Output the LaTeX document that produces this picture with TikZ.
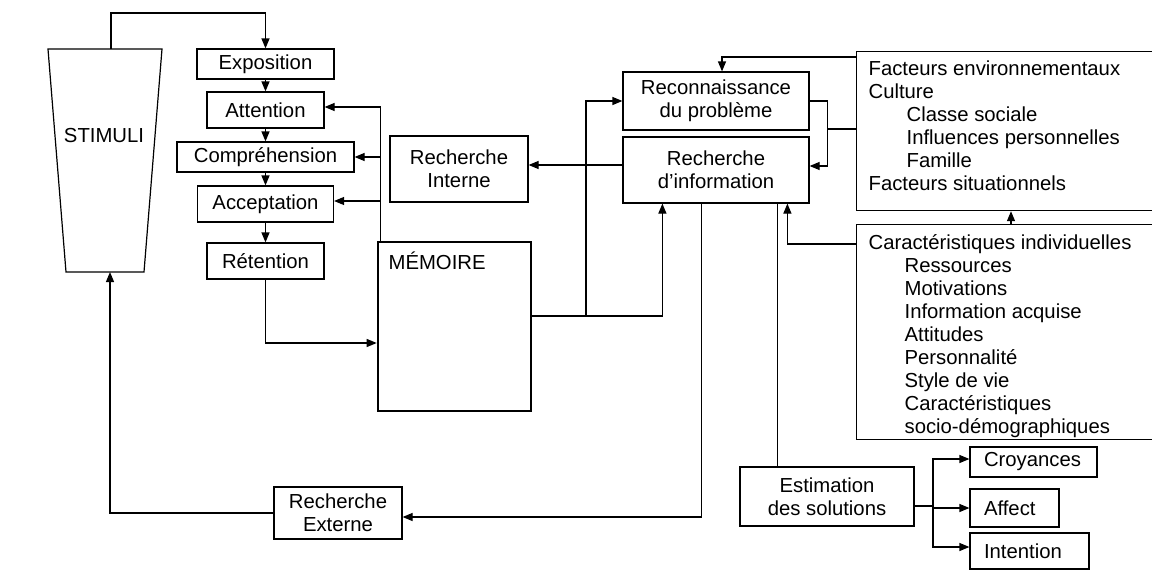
\documentclass[tikz,border=0pt]{standalone}
\usepackage{fontspec}
\setmainfont{Liberation Sans}
\usetikzlibrary{arrows.meta,calc}

\begin{document}
\begin{tikzpicture}[
    x=1pt,
    y=-1pt,
    line width=1.2pt,
    every node/.style={
      inner sep=0pt,
      font=\fontsize{20.3}{23}\selectfont
    },
    box/.style={
      draw,
      align=center
    },
    leftbox/.style={
      draw,
      align=left,
      inner xsep=14pt
    },
    panel/.style={
      draw,
      anchor=north west,
      minimum width=309
    },
    listing/.style={
      anchor=north west,
      align=left
    },
    arr/.style={
      -{Triangle[length=10pt,width=8pt]}
    }
  ]
    \clip (0,0) rectangle (1152,570);

    % stimuli funnel
    \draw (48,49) -- (162,49) -- (144,272) -- (66,272) -- cycle;
    \node (stimuli) at (104,136) {STIMULI};
    \coordinate (stimtop) at (111,49);
    \coordinate (stimbot) at (110,272);

    \node[box, minimum width=137, minimum height=30] (expo) at (265.5,64) {Exposition};
    \node[box, minimum width=117, minimum height=36] (atten) at (265.5,110) {Attention};
    \node[box, minimum width=177, minimum height=30] (compr) at (265.5,157) {Compréhension};
    \node[box, minimum width=136, minimum height=36] (accep) at (265.5,204) {Acceptation};
    \node[box, minimum width=117, minimum height=36] (reten) at (265.5,261) {Rétention};

    \node[box, line width=2.6pt, minimum width=153, minimum height=169] (memoire) at (454.5,326.5) {};
    \node[anchor=base west] (memlabel) at (388,269) {MÉMOIRE};

    \node[box, minimum width=138, minimum height=66] (rint) at (459,169) {Recherche\\Interne};
    \node[box, minimum width=186, minimum height=58] (recon) at (716,101) {Reconnaissance\\du problème};
    \node[box, minimum width=186, minimum height=66] (rinfo) at (716,170) {Recherche\\d’information};
    \node[box, minimum width=128, minimum height=52] (rext) at (338,513) {Recherche\\Externe};
    \node[box, minimum width=174, minimum height=59] (estim) at (827,496.5) {Estimation\\des solutions};
    \node[leftbox, text width=99, minimum height=30] (croy) at (1033.5,462) {Croyances};
    \node[leftbox, text width=61, minimum height=38] (affect) at (1014.5,508) {Affect};
    \node[leftbox, text width=91, minimum height=36] (inten) at (1029.5,551) {Intention};

    % right-hand panels
    \node[panel, minimum height=159] (env) at (856,51) {};
    \node[listing] (envtext) at (868,60) {Facteurs environnementaux\\Culture\\
      \hspace*{38pt}Classe sociale\\\hspace*{38pt}Influences personnelles\\
      \hspace*{38pt}Famille\\Facteurs situationnels};
    \node[panel, minimum height=215] (caract) at (856,224) {};
    \node[listing] (caracttext) at (868,234) {Caractéristiques individuelles\\
      \hspace*{36pt}Ressources\\\hspace*{36pt}Motivations\\
      \hspace*{36pt}Information acquise\\\hspace*{36pt}Attitudes\\
      \hspace*{36pt}Personnalité\\\hspace*{36pt}Style de vie\\
      \hspace*{36pt}Caractéristiques\\\hspace*{36pt}socio-démographiques};

    % perception chain
    \draw[arr] (stimtop) -- ++(0,-36) -| (expo.north);
    \draw[arr] (expo) -- (atten);
    \draw[arr] (atten) -- (compr);
    \draw[arr] (compr) -- (accep);
    \draw[arr] (accep) -- (reten);
    \draw[arr] (reten.south) |- ($(memoire.west)+(0,16.5)$);

    % memory feedback
    \coordinate (mtop) at ($(memoire.north west)+(4,0)$);
    \draw[arr] (mtop) |- ($(atten.east)+(0,-3)$);
    \draw[arr] (mtop) |- (compr.east);
    \draw[arr] (mtop) |- ($(accep.east)+(0,-3)$);

    % memory to problem solving
    \coordinate (mout) at ($(memoire.east)+(0,-10.5)$);
    \coordinate (split) at (586,316);
    \draw[arr] (mout) -| ($(rinfo.south west)+(40,0)$);
    \draw[arr] (split) |- (recon.west);
    \draw[arr] ($(rinfo.west)+(0,-5)$) -- ($(rint.east)+(0,-4)$);
    \draw[arr] ($(recon.east)$) -- ++(18,0) |- ($(rinfo.east)+(0,-4)$);

    % environment and individual factors
    \draw[arr] ($(env.north west)+(0,6)$) -| ($(recon.north)+(6,0)$);
    \draw ($(env.north west)+(0,78)$) -- ++(-29,0);
    \draw[arr] ($(caract.north west)+(155,0)$) -- ($(env.south west)+(155,0)$);
    \draw[arr] ($(caract.north west)+(0,20)$) -| ($(rinfo.south west)+(165,0)$);

    % search and evaluation
    \draw ($(rinfo.south west)+(155,0)$) -- ($(estim.north west)+(38,0)$);
    \draw[arr] ($(rinfo.south west)+(79,0)$) |- ($(rext.east)+(0,4)$);
    \draw[arr] (rext.west) -| (stimbot);

    \coordinate (fork) at (933,506);
    \draw ($(estim.east)+(0,9.5)$) -- (fork);
    \draw[arr] (fork) |- ($(croy.west)+(0,-3)$);
    \draw[arr] (fork) |- (affect.west);
    \draw[arr] (fork) |- ($(inten.west)+(0,-4)$);
  \end{tikzpicture}
\end{document}
